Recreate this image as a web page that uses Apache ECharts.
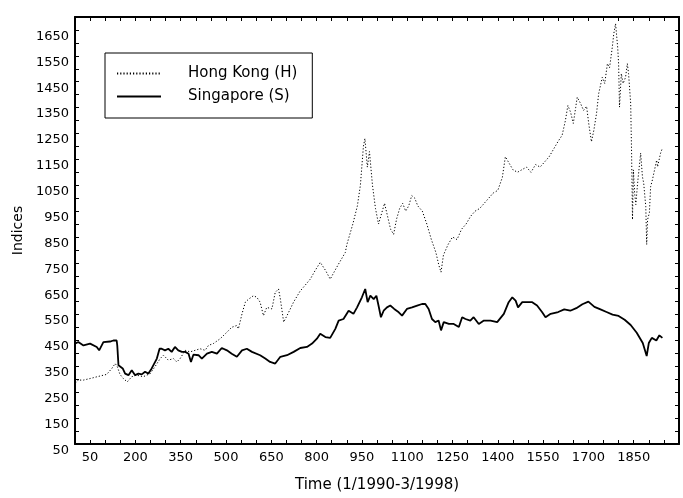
<!DOCTYPE html>
<html>
<head>
<meta charset="utf-8">
<script src="https://cdn.jsdelivr.net/npm/echarts@6/dist/echarts.min.js"></script>
<style>
html,body{margin:0;padding:0;background:#fff;}
#chart{width:683px;height:498px;}
</style>
</head>
<body>
<div id="chart"></div>
<script>
// Time index (trading days, 1/1990 - 3/1998) and index levels
const hkX = [0,11,28,50,77,105,122,133,140,149,160,173,188,204,226,249,265,282,293,309,326,337,348,365,381,398,414,431,442,458,481,503,519,536,541,553,564,575,591,602,613,624,635,652,663,674,680,691,702,710,724,745,779,795,812,830,845,870,895,
  900,920,935,945,955,960,968,975,985,995,1005,1015,1025,1035,1045,1055,1065,1075,1085,1095,1105,1115,1125,1135,1150,1165,1180,1195,1205,1212,1220,1235,1250,1265,1280,1295,1310,1325,1340,1355,1370,1385,1400,1415,1425,1435,1450,1465,1480,1495,1510,1525,1540,1555,1570,1585,1600,
  1613,1624,1632,1641,1650,1658,1663,1674,1684,1694,1701,1710,1718,1727,1734,1746,1754,1763,1770,1779,1784,1790,1797,1800,1803,1809,1815,1823,1829,1833,1840,1843,1846,1849,1853,1857,1863,1873,1879,1883,1890,1893,1896,1902,1906,1912,1919,1926,1929,1939,1945];
const hkY = [284,297,297,303,311,319,342,361,349,319,303,290,310,316,310,322,349,380,393,374,380,367,380,412,406,412,418,412,431,438,457,482,501,508,495,553,598,610,623,617,598,546,578,572,636,649,610,521,546,565,599,640,687,720,752,720,687,740,790,
  820,900,970,1050,1200,1230,1120,1180,1050,960,900,940,980,930,880,860,920,960,980,950,970,1010,1000,970,950,900,840,790,740,714,780,820,850,840,880,900,930,950,960,980,1000,1020,1030,1080,1160,1140,1110,1100,1110,1120,1100,1130,1120,1140,1160,1190,1220,
  1243,1301,1358,1332,1289,1351,1390,1366,1339,1355,1289,1218,1262,1328,1404,1467,1443,1520,1504,1582,1635,1674,1582,1520,1352,1481,1443,1467,1520,1481,1366,1174,917,1109,1021,975,1059,1174,1082,1059,967,821,917,944,1044,1071,1109,1147,1121,1174,1193];

const sgX = [0,11,28,50,72,80,94,116,127,138,140,144,149,158,166,177,188,199,210,221,232,243,254,271,280,287,298,309,320,331,342,354,365,376,384,392,409,420,437,453,470,486,503,519,536,553,569,586,
  613,630,646,663,680,702,724,746,768,785,801,812,829,845,862,873,889,906,922,934,950,961,969,978,989,998,1005,1013,1022,1033,1044,1057,1072,1083,1099,1116,1133,1149,1160,1171,1182,1193,1204,1212,1221,1238,1254,1271,1282,1293,1309,1320,1337,1354,1376,1398,1420,1436,1448,1459,1467,1481,1497,1514,1530,1547,1558,1575,
  1600,1620,1640,1660,1680,1700,1720,1740,1760,1780,1800,1820,1840,1860,1880,1893,1900,1910,1925,1935,1945];
const sgY = [438,444,431,438,425,412,444,446,450,450,430,354,361,342,322,316,335,316,322,319,329,322,342,380,418,418,412,418,406,425,412,406,406,399,367,395,393,380,399,406,399,421,412,399,387,412,418,406,
  393,380,367,361,387,393,406,421,425,438,457,476,463,460,495,527,533,565,553,578,617,649,598,623,610,623,585,540,565,578,585,572,559,546,572,578,585,591,591,572,533,521,527,489,521,514,514,502,540,533,527,540,514,527,527,521,553,598,617,604,578,598,598,598,585,559,540,553,
  560,570,565,575,590,600,580,570,560,550,545,530,510,480,440,390,440,460,450,470,460];

const xMin = 0, xMax = 2000, xStep = 50;
const yMin = 50, yMax = 1700, yStep = 50;

const zip = (xs, ys) => xs.map((x, i) => [x, ys[i]]);
const FONT = 'DejaVu Sans';

const chart = echarts.init(document.getElementById('chart'), null, {renderer: 'canvas'});
const axisCommon = {
  type: 'value', splitLine: {show: false},
  axisLine: {show: true, onZero: false, lineStyle: {color: '#000', width: 2}},
  axisTick: {show: true, inside: true, length: 4, lineStyle: {color: '#000', width: 1}},
};
chart.setOption({
  animation: false,
  backgroundColor: '#fff',
  grid: {left: 75, right: 4, top: 17, bottom: 52},
  legend: {
    left: 105, top: 53, orient: 'vertical',
    data: ['Hong Kong (H)', 'Singapore (S)'],
    itemWidth: 44, itemHeight: 14, itemGap: 8,
    itemStyle: {opacity: 0},
    borderColor: '#000', borderWidth: 1, padding: [13, 15, 14, 11],
    textStyle: {fontFamily: FONT, fontSize: 15, color: '#000', padding: [0, 0, 0, 22]}
  },
  xAxis: [
    Object.assign({}, axisCommon, {
      min: xMin, max: xMax, interval: xStep, position: 'bottom',
      axisLabel: {show: true, margin: 7, color: '#000', fontFamily: FONT, fontSize: 13,
        formatter: v => ((v - 50) % 150 === 0 && v >= 50 && v <= 1850) ? String(v) : ''},
      name: 'Time (1/1990-3/1998)', nameLocation: 'middle', nameGap: 34,
      nameTextStyle: {fontFamily: FONT, fontSize: 15, color: '#000'}
    }),
    Object.assign({}, axisCommon, {
      min: xMin, max: xMax, interval: xStep, position: 'top', axisLabel: {show: false}
    })
  ],
  yAxis: [
    Object.assign({}, axisCommon, {
      min: yMin, max: yMax, interval: yStep, position: 'left',
      axisLabel: {show: true, margin: 6, color: '#000', fontFamily: FONT, fontSize: 13, verticalAlign: 'top',
        formatter: v => ((v - 50) % 100 === 0 && v <= 1650) ? String(v) : ''},
      name: 'Indices', nameLocation: 'middle', nameGap: 47, nameRotate: 90,
      nameTextStyle: {fontFamily: FONT, fontSize: 14, color: '#000'}
    }),
    Object.assign({}, axisCommon, {
      min: yMin, max: yMax, interval: yStep, position: 'right', axisLabel: {show: false}
    })
  ],
  series: [
    {name: 'Hong Kong (H)', type: 'line', data: zip(hkX, hkY), showSymbol: false, symbol: 'none',
     lineStyle: {color: '#000', width: 1, type: [1.2, 2]}, itemStyle: {color: '#000'}},
    {name: 'Singapore (S)', type: 'line', data: zip(sgX, sgY), showSymbol: false, symbol: 'none',
     lineStyle: {color: '#000', width: 1.8, type: 'solid'}, itemStyle: {color: '#000'}}
  ]
});
</script>
</body>
</html>
